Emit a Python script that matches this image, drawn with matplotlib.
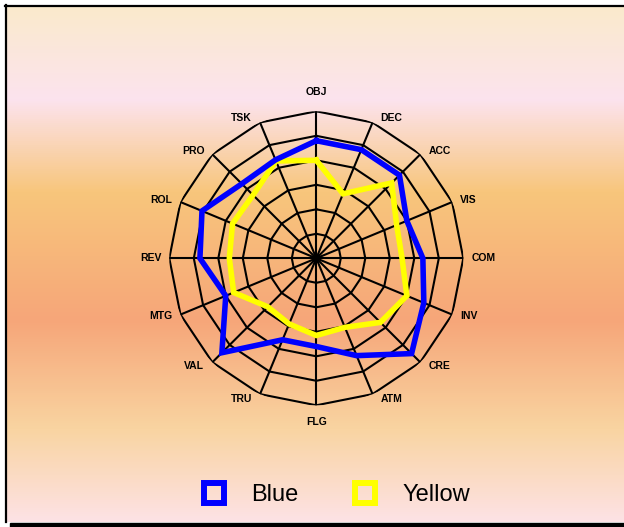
import numpy as np
import matplotlib
matplotlib.use("Agg")
import matplotlib.pyplot as plt
from matplotlib.colors import LinearSegmentedColormap
from matplotlib.lines import Line2D
from matplotlib.patches import Rectangle

categories = ["OBJ", "DEC", "ACC", "VIS", "COM", "INV", "CRE", "ATM",
              "FLG", "TRU", "VAL", "MTG", "REV", "ROL", "PRO", "TSK"]
blue_values = [4.8, 4.8, 4.8, 4.0, 4.35, 4.75, 5.5, 4.3,
               3.6, 3.6, 5.45, 4.0, 4.75, 5.05, 4.3, 4.35]
yellow_values = [4.0, 2.85, 4.35, 3.55, 3.5, 4.0, 3.7, 3.05,
                 3.15, 2.9, 2.8, 3.65, 3.55, 3.7, 3.65, 4.3]
series_names = ["Blue", "Yellow"]
ring_levels = [1, 2, 3, 4, 5, 6]

plt.rcParams['font.family'] = ['Liberation Sans', 'DejaVu Sans']

W, H = 624, 527
fig = plt.figure(figsize=(W / 100, H / 100), dpi=100)
fig.patch.set_facecolor('white')

# Background gradient panel
bg = fig.add_axes([6 / W, 1 - 522 / H, 1 - 6 / W, 516 / H])
bg.set_axis_off()
stops = [(0.0, "#FAEACC"), (0.18, "#FCE3EE"), (0.36, "#F8C67C"),
         (0.61, "#F6A679"), (0.82, "#F9D4A1"), (1.0, "#FDE2E5")]
cmap = LinearSegmentedColormap.from_list("bgfill", stops)
grad = np.linspace(0, 1, 512).reshape(-1, 1)
bg.imshow(grad, aspect='auto', cmap=cmap, extent=[0, 1, 0, 1], origin='upper')
bg.set_xlim(0, 1)
bg.set_ylim(0, 1)

# Frame lines
fig.add_artist(Line2D([5.5 / W, 5.5 / W], [1 - 5 / H, 1 - 522 / H], color='black', lw=1.6,
                      transform=fig.transFigure))
fig.add_artist(Line2D([5 / W, 1], [1 - 5.5 / H, 1 - 5.5 / H], color='black', lw=1.6,
                      transform=fig.transFigure))
fig.add_artist(Rectangle((10 / W, 0), 1, 4.5 / H, color='black', transform=fig.transFigure))

# Radar axes
cx, cy, R = 316.3, 258.3, 147.0
ax = fig.add_axes([(cx - R) / W, (H - cy - R) / H, 2 * R / W, 2 * R / H], projection='polar')
ax.set_facecolor('none')
ax.patch.set_alpha(0)
ax.set_theta_zero_location('N')
ax.set_theta_direction(-1)
ax.set_ylim(0, max(ring_levels))
ax.grid(False)
ax.spines['polar'].set_visible(False)
ax.set_xticks([])
ax.set_yticks([])

n = len(categories)
angles = np.linspace(0, 2 * np.pi, n, endpoint=False)
closed = np.concatenate([angles, angles[:1]])

for lvl in ring_levels:
    ax.plot(closed, [lvl] * (n + 1), color='black', lw=1.5, zorder=2)
for a in angles:
    ax.plot([a, a], [0, max(ring_levels)], color='black', lw=1.5, zorder=2)

def close(v):
    return list(v) + [v[0]]

ax.plot(closed, close(blue_values), color='#0000FF', lw=4.0, zorder=4,
        solid_joinstyle='miter')
ax.plot(closed, close(yellow_values), color='#FFFF00', lw=4.0, zorder=3,
        solid_joinstyle='miter')

px = 72.0 / 100.0  # pixels -> points
for a, lab in zip(angles, categories):
    s, c = np.sin(a), np.cos(a)
    if abs(s) < 0.1:
        ha = 'center'
        dx = 0.0
        dy = 19.0 if c > 0 else -17.0
    else:
        ha = 'left' if s > 0 else 'right'
        dx = 8.0 if s > 0 else -8.0
        dy = 5.0 * c
    ax.annotate(lab, xy=(a, max(ring_levels)), xytext=(dx * px, dy * px),
                textcoords='offset points', ha=ha, va='center',
                fontsize=7.5, fontweight='bold', color='black')

handles = [
    Line2D([], [], marker='s', ls='none', mfc='none', mec='#0000FF', ms=15, mew=4.3),
    Line2D([], [], marker='s', ls='none', mfc='none', mec='#FFFF00', ms=15, mew=4.3),
]
fig.legend(handles, series_names, loc='center', bbox_to_anchor=(335.5 / W, 1 - 495 / H),
           ncol=2, frameon=False, fontsize=17, handlelength=1.1,
           handletextpad=1.0, columnspacing=2.3)

fig.savefig("out.png", dpi=100, facecolor='white')
